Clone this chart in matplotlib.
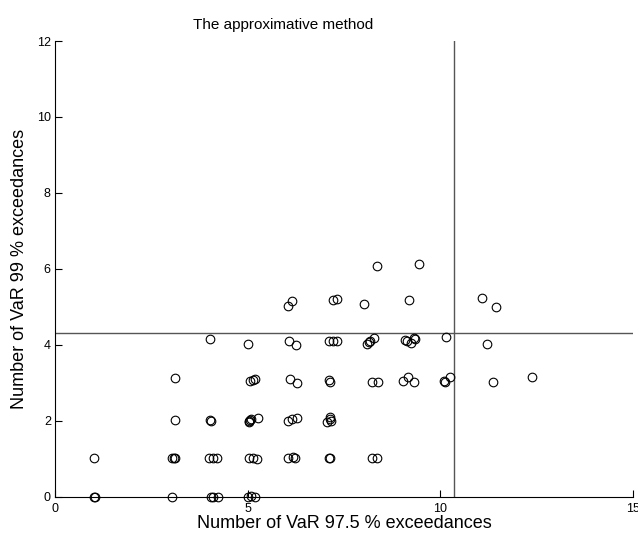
import matplotlib
matplotlib.use("Agg")
import matplotlib.pyplot as plt

plt.rcParams['font.family'] = ['Liberation Sans', 'DejaVu Sans']

# exceedances, VaR 97.5 % (x) vs VaR 99 % (y)
x97 = [1.02, 1.04, 3.04, 4.05, 4.10, 4.23, 5.01, 5.09, 5.19,
       1.01, 3.04, 3.08, 3.11, 4.00, 4.10, 4.20, 5.03, 5.14, 5.24,
       6.05, 6.18, 6.23, 7.12, 7.14, 8.23, 8.36,
       3.11, 4.02, 4.05, 5.03, 5.06, 5.08, 5.04, 5.27, 6.05, 6.15, 6.28,
       7.06, 7.14, 7.16, 7.15,
       3.11, 5.06, 5.14, 5.19, 6.10, 6.28, 7.11, 7.14, 8.23, 8.38,
       9.03, 9.16, 9.32, 10.10, 10.11, 10.25, 11.37, 12.38,
       4.02, 5.01, 6.07, 6.25, 7.11, 7.22, 7.32, 8.10, 8.15, 8.18, 8.28,
       9.08, 9.14, 9.24, 9.32, 9.34, 10.15, 11.21,
       6.05, 6.15, 7.22, 7.32, 8.02, 9.19, 11.08, 11.45,
       8.36, 9.45]
y99 = [0, 0, 0, 0, 0, 0, 0, 0.03, 0,
       1.03, 1.03, 1.03, 1.03, 1.03, 1.03, 1.03, 1.03, 1.03, 1.0,
       1.03, 1.05, 1.03, 1.03, 1.03, 1.03, 1.03,
       2.03, 2.03, 2.0, 2.0, 2.03, 2.05, 1.97, 2.08, 2.0, 2.05, 2.08,
       1.97, 2.05, 2.0, 2.1,
       3.13, 3.05, 3.08, 3.1, 3.1, 3.0, 3.08, 3.03, 3.03, 3.03,
       3.05, 3.16, 3.03, 3.05, 3.03, 3.16, 3.03, 3.16,
       4.16, 4.03, 4.1, 4.0, 4.1, 4.1, 4.1, 4.03, 4.08, 4.1, 4.18,
       4.13, 4.1, 4.05, 4.18, 4.16, 4.21, 4.03,
       5.03, 5.16, 5.18, 5.21, 5.08, 5.18, 5.24, 5.0,
       6.08, 6.13]

x_limit = 10.36
y_limit = 4.32

fig = plt.figure(figsize=(6.38, 5.36), dpi=100)
ax = fig.add_axes([0.0862, 0.0728, 0.9058, 0.8507])

ax.plot(x97, y99, 'o', markerfacecolor='none', markeredgecolor='black',
        markersize=6.2, markeredgewidth=0.8, clip_on=False, zorder=3)
ax.axvline(x_limit, color='#555555', linewidth=1.0)
ax.axhline(y_limit, color='#555555', linewidth=1.0)

ax.set_xlim(0, 15)
ax.set_ylim(0, 12)
ax.set_xticks([0, 5, 10, 15])
ax.set_yticks([0, 2, 4, 6, 8, 10, 12])
ax.spines['top'].set_visible(False)
ax.spines['right'].set_visible(False)
ax.tick_params(direction='in', length=5, labelsize=9)
ax.tick_params(axis='x', pad=4)
ax.tick_params(axis='y', pad=3)

# titre decale a gauche comme dans l'original
ax.set_title("The approximative method", fontsize=11, x=0.394, pad=9)
ax.set_xlabel("Number of VaR 97.5 % exceedances", fontsize=13, labelpad=0)
ax.set_ylabel("Number of VaR 99 % exceedances", fontsize=13, labelpad=6)

fig.savefig("out.png", dpi=100)
